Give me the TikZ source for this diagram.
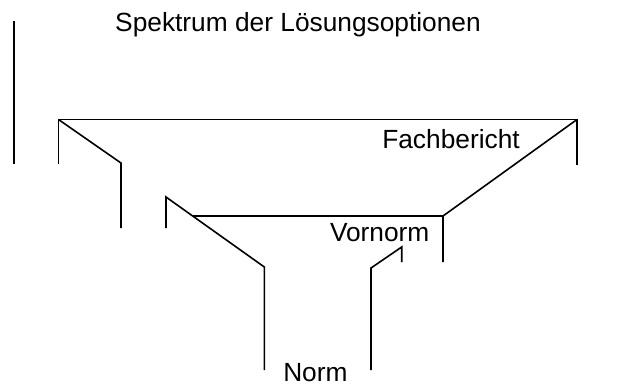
\documentclass[tikz,border=0pt]{standalone}
\usepackage{fontspec}
\setmainfont{Liberation Sans}

\begin{document}
\begin{tikzpicture}[x=1pt, y=-1pt, line width=1.6pt,
    beschriftung/.style={anchor=base, inner sep=0pt, font=\fontsize{26.3}{31}\selectfont}]

  \useasboundingbox (0,0) rectangle (619,384);

  % Eckpunkte
  \coordinate (FL) at (58.5,119.5);
  \coordinate (FR) at (577,119.5);
  \coordinate (VL) at (166,197);
  \coordinate (VR) at (443,216);
  \coordinate (NL) at (264.3,267);
  \coordinate (NR) at (371,268);

  % Titel und linke Begrenzung
  \node[beschriftung] (titel) at (298,31) {Spektrum der Lösungsoptionen};
  \draw (13.7,21) -- (13.7,164);

  % Fachbericht
  \draw (FL |- 0,164) -- (FL) -- (FR) -- (FR |- 0,165);
  \draw (FL) -- (121,163) -- (121,228);
  \draw (FR) -- (VR) -- (VR |- 0,262);
  \node[beschriftung] (fachbericht) at (451,148.3) {Fachbericht};

  % Vornorm
  \draw (VL |- 0,228) -- (VL) -- (NL) -- (NL |- 0,370);
  \draw (192.6,216) -- (VR);
  \node[beschriftung] (vornorm) at (379.7,241.7) {Vornorm};

  % Norm
  \draw (NR |- 0,370) -- (NR) -- (401.7,247) -- (401.7,262);
  \node[beschriftung] (norm) at (315.4,381) {Norm};

\end{tikzpicture}
\end{document}
